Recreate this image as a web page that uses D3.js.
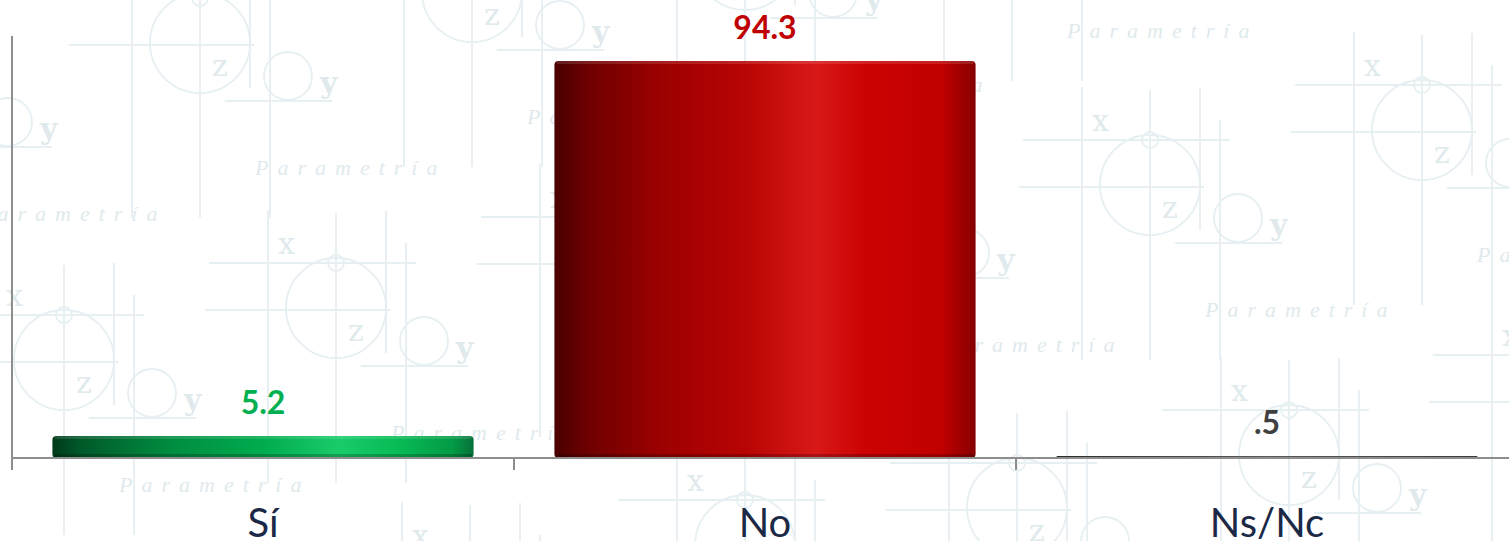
<!DOCTYPE html>
<html>
<head>
<meta charset="utf-8">
<script src="https://cdn.jsdelivr.net/npm/d3@7"></script>
<style>
  html, body { margin: 0; padding: 0; background: #fff; overflow: hidden; }
  svg { display: block; }
</style>
</head>
<body>
<div id="chart"></div>
<script>
// chart values
var categories = ["Sí", "No", "Ns/Nc"];
var values = [5.2, 94.3, 0.5];
var valueLabels = ["5.2", "94.3", ".5"];
var labelColors = ["#00b050", "#c00000", "#404040"];
var fills = ["grad-green", "grad-red", "grad-gray"];

// watermark motif anchors (background decoration only)
var motifs = [[-80, 89], [200, 43], [472, -8], [745, -40], [1012, -94],
              [64, 360], [336, 308], [608, 262], [877, 220], [1150, 185], [1422, 130],
              [470, 600], [745, 545], [1017, 508], [1289, 455], [1560, 400]];

var width = 1509, height = 541;
var margin = {left: 12, bottom: 458, top: 37};

var svg = d3.select("#chart").append("svg")
    .attr("width", width)
    .attr("height", height);

var defs = svg.append("defs");

function hGrad(id, stops) {
  var g = defs.append("linearGradient").attr("id", id)
      .attr("x1", "0%").attr("x2", "100%").attr("y1", "0%").attr("y2", "0%");
  stops.forEach(function(s) {
    g.append("stop").attr("offset", s[0]).attr("stop-color", s[1]);
  });
}
hGrad("grad-red", [["0%", "#4a0000"], ["8%", "#6e0000"], ["25%", "#9c0000"], ["45%", "#b80404"],
                   ["62%", "#d81818"], ["74%", "#cc0202"], ["92%", "#c00000"], ["100%", "#860000"]]);
hGrad("grad-green", [["0%", "#00391a"], ["7%", "#005a2a"], ["28%", "#008c40"], ["50%", "#00ac4e"],
                     ["68%", "#1acb6a"], ["82%", "#08bb56"], ["95%", "#039a45"], ["100%", "#06703a"]]);
hGrad("grad-gray", [["0%", "#2a2a2a"], ["50%", "#5a5a5a"], ["100%", "#3a3a3a"]]);

// background
svg.append("rect").attr("width", width).attr("height", height).attr("fill", "#fff");

var wm = svg.append("g").attr("class", "watermark")
    .attr("stroke", "#e6eff2").attr("stroke-width", 1.8).attr("fill", "none");

motifs.forEach(function(m) {
  var cx = m[0], cy = m[1];
  var g = wm.append("g");
  [[cx - 68, cy - 98, cy + 175], [cx, cy - 95, cy + 175],
   [cx + 50, cy - 97, cy + 45], [cx + 70, cy - 65, cy + 175]].forEach(function(l) {
    g.append("line").attr("x1", l[0]).attr("x2", l[0]).attr("y1", l[1]).attr("y2", l[2]);
  });
  g.append("line").attr("x1", cx - 127).attr("x2", cx + 80).attr("y1", cy - 45).attr("y2", cy - 45);
  g.append("line").attr("x1", cx - 131).attr("x2", cx + 54).attr("y1", cy + 2).attr("y2", cy + 2);
  g.append("line").attr("x1", cx + 25).attr("x2", cx + 132).attr("y1", cy + 58).attr("y2", cy + 58);
  g.append("circle").attr("cx", cx).attr("cy", cy).attr("r", 50);
  g.append("circle").attr("cx", cx).attr("cy", cy - 45).attr("r", 8);
  g.append("circle").attr("cx", cx + 88).attr("cy", cy + 33).attr("r", 24);
  var t = g.append("g").attr("stroke", "none").attr("fill", "#e0eaed")
      .style("font-family", "'DejaVu Serif', serif").style("font-size", "30px");
  t.append("text").attr("x", cx - 58).attr("y", cy - 54).text("x");
  t.append("text").attr("x", cx + 12).attr("y", cy + 33).text("z");
  t.append("text").attr("x", cx + 120).attr("y", cy + 50).style("font-weight", "bold").text("y");
  t.append("text").attr("x", cx + 55).attr("y", cy + 132)
      .style("font-family", "'Liberation Serif', serif").style("font-style", "italic")
      .style("font-size", "22px").style("letter-spacing", "9px")
      .text("Parametría");
});

// scales
var x = d3.scaleBand()
    .domain(categories)
    .range([margin.left, margin.left + 502 * 3])
    .paddingInner(0.161)
    .paddingOuter(0.0805);

var xBand = d3.scaleBand()
    .domain(categories)
    .range([margin.left, margin.left + 502 * 3])
    .padding(0);

var y = d3.scaleLinear()
    .domain([0, 100])
    .range([margin.bottom, margin.top]);

// bars
var bars = svg.append("g").selectAll("g")
    .data(categories)
    .enter().append("g");

bars.append("rect")
    .attr("x", function(d) { return x(d); })
    .attr("y", function(d, i) { return y(values[i]); })
    .attr("width", x.bandwidth())
    .attr("height", function(d, i) { return y(0) - y(values[i]); })
    .attr("rx", function(d, i) { return Math.min(4, (y(0) - y(values[i])) / 2); })
    .attr("fill", function(d, i) { return "url(#" + fills[i] + ")"; });

// top highlight and bottom shade to get the cylinder look
bars.filter(function(d, i) { return y(0) - y(values[i]) > 8; })
  .each(function(d) {
    var k = categories.indexOf(d);
    var g = d3.select(this);
    var top = y(values[k]);
    g.append("rect")
        .attr("x", x(d) + 2).attr("y", top)
        .attr("width", x.bandwidth() - 4).attr("height", 3)
        .attr("rx", 2)
        .attr("fill", "#ffffff").attr("opacity", 0.12);
    g.append("rect")
        .attr("x", x(d) + 1).attr("y", y(0) - 4)
        .attr("width", x.bandwidth() - 2).attr("height", 4)
        .attr("rx", 2)
        .attr("fill", "#000000").attr("opacity", 0.22);
  });

// value labels
bars.append("text")
    .attr("x", function(d) { return x(d) + x.bandwidth() / 2; })
    .attr("y", function(d, i) { return y(values[i]) - 22; })
    .attr("text-anchor", "middle")
    .style("font-family", "Lato, 'Open Sans', sans-serif")
    .style("font-weight", "bold")
    .style("font-size", "32px")
    .attr("fill", function(d, i) { return labelColors[i]; })
    .text(function(d, i) { return valueLabels[i]; });

// axes
var axis = svg.append("g").attr("stroke", "#8e8e8e").attr("stroke-width", 2);
axis.append("line")
    .attr("x1", margin.left).attr("x2", margin.left)
    .attr("y1", y(100) - 1).attr("y2", y(0));
axis.append("line")
    .attr("x1", margin.left - 1).attr("x2", width)
    .attr("y1", y(0)).attr("y2", y(0));
axis.selectAll(".tick")
    .data(categories.concat(["end"]))
    .enter().append("line")
    .attr("class", "tick")
    .attr("x1", function(d) { return d === "end" ? xBand.range()[1] : xBand(d); })
    .attr("x2", function(d) { return d === "end" ? xBand.range()[1] : xBand(d); })
    .attr("y1", y(0)).attr("y2", y(0) + 12);

// category labels
svg.append("g").selectAll("text")
    .data(categories)
    .enter().append("text")
    .attr("x", function(d) { return xBand(d) + xBand.bandwidth() / 2; })
    .attr("y", 537)
    .attr("text-anchor", "middle")
    .style("font-family", "Lato, 'Open Sans', sans-serif")
    .style("font-size", "40px")
    .attr("fill", "#1b2946")
    .text(function(d) { return d; });
</script>
</body>
</html>
